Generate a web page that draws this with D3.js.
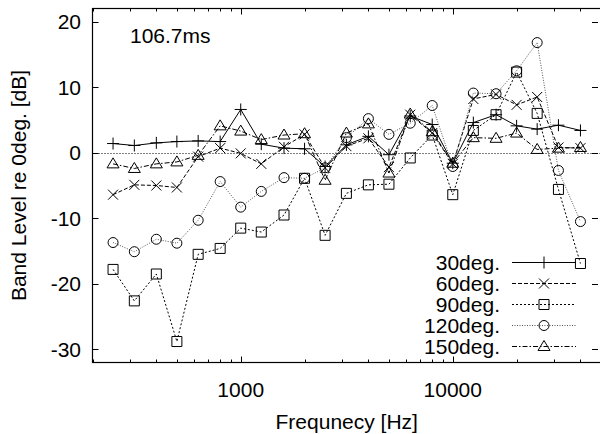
<!DOCTYPE html>
<html>
<head>
<meta charset="utf-8">
<script src="https://cdn.jsdelivr.net/npm/d3@7"></script>
<style>
	body { margin: 0; background: #fff; }
	svg { display: block; font-family: "Liberation Sans", Arial, sans-serif; }
</style>
</head>
<body>
<div id="chart"></div>
<script>
// 1: DATA (1/3-octave band levels relative to 0 deg)
const freqs = [250, 315, 400, 500, 630, 800, 1000, 1250, 1600, 2000, 2500, 3150,
	4000, 5000, 6300, 8000, 10000, 12500, 16000, 20000, 25000, 31500, 40000];
const deg30 = [1.4, 1.1, 1.5, 1.7, 1.8, 1.7, 6.6, 1.3, 0.7, 0.6, -2.1, 1.2,
	2.5, -0.3, 5.6, 4.3, -1.6, 4.6, 5.8, 4.1, 3.6, 4.2, 3.4];
const deg60 = [-6.4, -4.9, -5.0, -5.3, -0.6, 0.7, -0.1, -1.7, 0.9, 2.8, -2.3, 1.0,
	2.2, -2.2, 5.8, 3.0, -1.7, 8.2, 8.9, 7.3, 8.5, 0.8, 0.7];
const deg90 = [-17.8, -22.6, -18.5, -28.8, -15.5, -14.6, -11.5, -12.1, -9.5, -3.9, -12.6, -6.2,
	-4.9, -4.8, -0.8, 2.7, -6.4, 3.4, 5.8, 12.3, 6.0, -5.6, -16.9];
const deg120 = [-13.7, -15.1, -13.2, -13.8, -10.3, -4.4, -8.3, -5.9, -3.8, -3.9, -2.3, 2.3,
	5.2, 2.8, 4.5, 7.2, -2.1, 9.1, 9.0, 12.5, 16.8, -2.7, -10.5];
const deg150 = [-1.7, -2.4, -1.7, -1.4, -0.4, 4.1, 3.3, 2.0, 2.7, 2.9, -4.2, 3.0,
	4.4, -3.1, 5.9, 3.2, -1.6, 2.3, 2.2, 3.0, 0.5, 0.7, 0.8];
const seriesNames = ["30deg.", "60deg.", "90deg.", "120deg.", "150deg."];
const xTickValues = [1000, 10000];
const xMinorTicks = [200, 300, 400, 500, 600, 700, 800, 900,
	2000, 3000, 4000, 5000, 6000, 7000, 8000, 9000, 20000, 30000, 40000, 50000];
const yTickValues = [-30, -20, -10, 0, 10, 20];

// 2: LAYOUT
const W = 600, H = 434;
const box = { left: 92.5, top: 8.5, right: 601, bottom: 362.5 };

const svg = d3.select("#chart")
	.append("svg")
		.attr("width", W)
		.attr("height", H);

const xScale = d3.scaleLog()
	.domain([200, 50000])
	.range([box.left, box.right]);

const yScale = d3.scaleLinear()
	.domain([-32, 22])
	.range([box.bottom, box.top]);

// line styles: solid, dashed, dotted, fine dotted, dash-dot
const styles = [
	{ dash: null, color: "#000", marker: "plus" },
	{ dash: "4,2", color: "#000", marker: "cross" },
	{ dash: "2,2", color: "#000", marker: "square" },
	{ dash: "1,1.5", color: "#555", marker: "circle" },
	{ dash: "5,2,1.5,2", color: "#000", marker: "triangle" }
];

const seriesData = [deg30, deg60, deg90, deg120, deg150].map((vals, i) => ({
	name: seriesNames[i],
	style: styles[i],
	values: vals.map((v, j) => ({ f: freqs[j], v: v }))
}));

function markerPath(type) {
	const s = 5;
	switch (type) {
		case "plus": return `M${-s - 1},0H${s + 1}M0,${-s - 1}V${s + 1}`;
		case "cross": return `M${-s},${-s}L${s},${s}M${-s},${s}L${s},${-s}`;
		case "square": return `M${-s},${-s}H${s}V${s}H${-s}Z`;
		case "circle": return `M${s},0A${s},${s} 0 1,1 ${-s},0A${s},${s} 0 1,1 ${s},0Z`;
		case "triangle": return `M0,${-s - 1}L${s + 1},${s - 1}L${-s - 1},${s - 1}Z`;
	}
}

// 3: ZERO LINE
svg.append("line")
	.attr("x1", box.left)
	.attr("x2", box.right)
	.attr("y1", Math.round(yScale(0)) + 0.5)
	.attr("y2", Math.round(yScale(0)) + 0.5)
	.attr("stroke", "#000")
	.attr("stroke-width", 1)
	.attr("stroke-dasharray", "1,2");

// 4: SERIES
svg.append("clipPath")
	.attr("id", "clip")
	.append("rect")
		.attr("x", box.left)
		.attr("y", box.top)
		.attr("width", box.right - box.left)
		.attr("height", box.bottom - box.top);

const line = d3.line()
	.x(d => xScale(d.f))
	.y(d => yScale(d.v));

const plot = svg.append("g").attr("clip-path", "url(#clip)");

seriesData.forEach(s => {
	plot.append("path")
		.datum(s.values)
		.attr("d", line)
		.attr("fill", "none")
		.attr("stroke", s.style.color)
		.attr("stroke-width", 1)
		.attr("stroke-dasharray", s.style.dash);

	plot.selectAll(null)
		.data(s.values)
		.enter()
		.append("path")
			.attr("transform", d => `translate(${xScale(d.f)},${yScale(d.v)})`)
			.attr("d", markerPath(s.style.marker))
			.attr("fill", "none")
			.attr("stroke", "#000")
			.attr("stroke-width", 1);
});

// 5: FRAME AND TICKS
svg.append("rect")
	.attr("x", box.left)
	.attr("y", box.top)
	.attr("width", box.right - box.left)
	.attr("height", box.bottom - box.top)
	.attr("fill", "none")
	.attr("stroke", "#000")
	.attr("stroke-width", 1.2);

const ticks = svg.append("g").attr("stroke", "#000").attr("stroke-width", 1);

xTickValues.forEach(t => {
	const x = Math.round(xScale(t)) + 0.5;
	ticks.append("line").attr("x1", x).attr("x2", x).attr("y1", box.bottom).attr("y2", box.bottom - 6);
	ticks.append("line").attr("x1", x).attr("x2", x).attr("y1", box.top).attr("y2", box.top + 6);
});
xMinorTicks.forEach(t => {
	const x = Math.round(xScale(t)) + 0.5;
	ticks.append("line").attr("x1", x).attr("x2", x).attr("y1", box.bottom).attr("y2", box.bottom - 3);
	ticks.append("line").attr("x1", x).attr("x2", x).attr("y1", box.top).attr("y2", box.top + 3);
});
yTickValues.forEach(t => {
	const y = Math.round(yScale(t)) + 0.5;
	ticks.append("line").attr("x1", box.left).attr("x2", box.left + 6).attr("y1", y).attr("y2", y);
	ticks.append("line").attr("x1", 598).attr("x2", 592).attr("y1", y).attr("y2", y);
});

// 6: TICK LABELS
svg.selectAll(".xlab")
	.data(xTickValues)
	.enter()
	.append("text")
		.attr("x", d => xScale(d))
		.attr("y", 397)
		.attr("text-anchor", "middle")
		.style("font-size", "21px")
		.text(d => d);

svg.selectAll(".ylab")
	.data(yTickValues)
	.enter()
	.append("text")
		.attr("x", 81)
		.attr("y", d => yScale(d))
		.attr("dy", "0.36em")
		.attr("text-anchor", "end")
		.style("font-size", "21px")
		.text(d => d);

// 7: AXIS TITLES
svg.append("text")
	.attr("x", (box.left + box.right) / 2)
	.attr("y", 429)
	.attr("text-anchor", "middle")
	.style("font-size", "21px")
	.text("Frequnecy [Hz]");

svg.append("text")
	.attr("transform", "rotate(-90)")
	.attr("x", -(box.top + box.bottom) / 2)
	.attr("y", 26)
	.attr("text-anchor", "middle")
	.style("font-size", "21px")
	.text("Band Level re 0deg. [dB]");

svg.append("text")
	.attr("x", 130)
	.attr("y", 43)
	.style("font-size", "21px")
	.text("106.7ms");

// 8: LEGEND
const legend = svg.append("g");
seriesData.forEach((s, i) => {
	const y = 262.5 + i * 21;
	legend.append("text")
		.attr("x", 500)
		.attr("y", y + 7)
		.attr("text-anchor", "end")
		.style("font-size", "21px")
		.text(s.name);
	legend.append("line")
		.attr("x1", 512)
		.attr("x2", 576)
		.attr("y1", y)
		.attr("y2", y)
		.attr("stroke", s.style.color)
		.attr("stroke-width", 1)
		.attr("stroke-dasharray", s.style.dash);
	legend.append("path")
		.attr("transform", `translate(544,${y})`)
		.attr("d", markerPath(s.style.marker))
		.attr("fill", "none")
		.attr("stroke", "#000")
		.attr("stroke-width", 1);
});
</script>
</body>
</html>
